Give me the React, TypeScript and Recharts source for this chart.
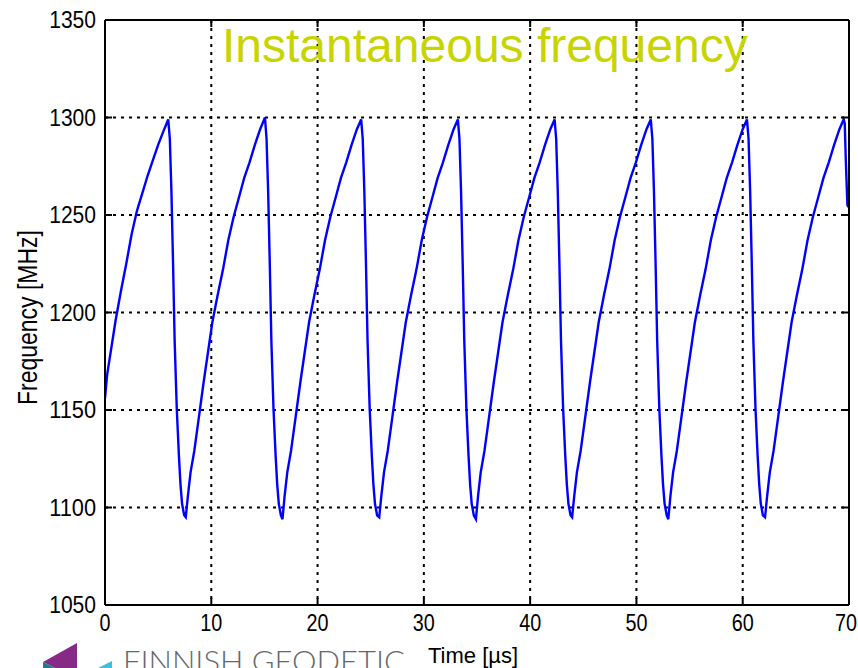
import React from "react";
import { LineChart, Line, XAxis, YAxis, CartesianGrid } from "recharts";

// time in µs, frequency in MHz, one sweep at a time
const sweep0 = [
  [0, 1156], [0.2, 1168], [0.6, 1182], [1.0, 1196], [1.5, 1211], [2.0, 1225], [2.5, 1240],
  [3.0, 1252], [3.5, 1261], [4.0, 1270], [4.5, 1278], [5.0, 1286], [5.5, 1293], [5.95, 1299],
  [6.1, 1289], [6.25, 1262], [6.4, 1226], [6.55, 1186], [6.75, 1151], [6.95, 1127], [7.1, 1112],
  [7.25, 1102], [7.45, 1096],
];
const sweep1 = [
  [7.6, 1095], [7.8, 1106], [8.05, 1118], [8.4, 1129], [8.7, 1141], [9.05, 1155], [9.3, 1165],
  [9.7, 1180], [10.1, 1195], [10.6, 1209], [11.1, 1222], [11.6, 1237], [12.1, 1249], [12.6, 1259],
  [13.1, 1269], [13.6, 1277], [14.1, 1286], [14.6, 1294], [15.05, 1300], [15.2, 1289], [15.35, 1262],
  [15.5, 1226], [15.65, 1186], [15.85, 1151], [16.05, 1127], [16.2, 1112], [16.35, 1102], [16.55, 1096],
];
const sweep2 = [
  [16.7, 1094], [16.9, 1106], [17.15, 1118], [17.5, 1129], [17.8, 1141], [18.15, 1155], [18.4, 1165],
  [18.8, 1180], [19.2, 1195], [19.7, 1209], [20.2, 1222], [20.7, 1237], [21.2, 1249], [21.7, 1259],
  [22.2, 1269], [22.7, 1277], [23.2, 1286], [23.7, 1294], [24.1, 1299], [24.25, 1289], [24.4, 1262],
  [24.55, 1226], [24.7, 1186], [24.9, 1151], [25.1, 1127], [25.25, 1112], [25.4, 1102], [25.6, 1096],
];
const sweep3 = [
  [25.8, 1095], [26.0, 1106], [26.25, 1118], [26.6, 1129], [26.9, 1141], [27.25, 1155], [27.5, 1165],
  [27.9, 1180], [28.3, 1195], [28.8, 1209], [29.3, 1222], [29.8, 1237], [30.3, 1249], [30.8, 1259],
  [31.3, 1269], [31.8, 1277], [32.3, 1286], [32.8, 1294], [33.2, 1299], [33.35, 1289], [33.5, 1262],
  [33.65, 1226], [33.8, 1186], [34.0, 1151], [34.2, 1127], [34.35, 1112], [34.5, 1102], [34.7, 1096],
];
const sweep4 = [
  [34.9, 1094], [35.1, 1106], [35.35, 1118], [35.7, 1129], [36.0, 1141], [36.35, 1155], [36.6, 1165],
  [37.0, 1180], [37.4, 1195], [37.9, 1209], [38.4, 1222], [38.9, 1237], [39.4, 1249], [39.9, 1259],
  [40.4, 1269], [40.9, 1277], [41.4, 1286], [41.9, 1294], [42.3, 1299], [42.45, 1289], [42.6, 1262],
  [42.75, 1226], [42.9, 1186], [43.1, 1151], [43.3, 1127], [43.45, 1112], [43.6, 1102], [43.8, 1096],
];
const sweep5 = [
  [43.95, 1095], [44.15, 1106], [44.4, 1118], [44.75, 1129], [45.05, 1141], [45.4, 1155], [45.65, 1165],
  [46.05, 1180], [46.45, 1195], [46.95, 1209], [47.45, 1222], [47.95, 1237], [48.45, 1249], [48.95, 1259],
  [49.45, 1269], [49.95, 1277], [50.45, 1286], [50.95, 1294], [51.35, 1299], [51.5, 1289], [51.65, 1262],
  [51.8, 1226], [51.95, 1186], [52.15, 1151], [52.35, 1127], [52.5, 1112], [52.65, 1102], [52.85, 1096],
];
const sweep6 = [
  [53.0, 1094], [53.2, 1106], [53.45, 1118], [53.8, 1129], [54.1, 1141], [54.45, 1155], [54.7, 1165],
  [55.1, 1180], [55.5, 1195], [56.0, 1209], [56.5, 1222], [57.0, 1237], [57.5, 1249], [58.0, 1259],
  [58.5, 1269], [59.0, 1277], [59.5, 1286], [60.0, 1294], [60.4, 1299], [60.55, 1289], [60.7, 1262],
  [60.85, 1226], [61.0, 1186], [61.2, 1151], [61.4, 1127], [61.55, 1112], [61.7, 1102], [61.9, 1096],
];
const sweep7 = [
  [62.1, 1095], [62.3, 1106], [62.55, 1118], [62.9, 1129], [63.2, 1141], [63.55, 1155], [63.8, 1165],
  [64.2, 1180], [64.6, 1195], [65.1, 1209], [65.6, 1222], [66.1, 1237], [66.6, 1249], [67.1, 1259],
  [67.6, 1269], [68.1, 1277], [68.6, 1286], [69.1, 1294], [69.5, 1299], [69.6, 1297], [69.7, 1278],
  [69.85, 1255], [69.95, 1254],
];

const timeTicks = [0, 10, 20, 30, 40, 50, 60, 70];
const freqTicks = [1050, 1100, 1150, 1200, 1250, 1300, 1350];

const data = [sweep0, sweep1, sweep2, sweep3, sweep4, sweep5, sweep6, sweep7]
  .flat()
  .map(([t, f]) => ({ t, f }));

const W = 858;
const H = 668;
// plot box edges, follow from the margins / axis sizes below
const TOP = 20;
const BOTTOM = 605;
const LEFT = 105;
const RIGHT = 849;
const TICK = 7;

const font = "'Liberation Sans', Arial, Helvetica, sans-serif";

// MATLAB style: inward ticks on both sides of the box, narrow digits
const TimeTick = ({ payload }: any) => {
  const x = payload.coordinate;
  const label = String(payload.value);
  const w = 11 * label.length;
  // keep the last label inside the figure like MATLAB does
  const tx = Math.min(x, W - 1 - w / 2);
  return (
    <g>
      <line x1={x} x2={x} y1={BOTTOM} y2={BOTTOM - TICK} stroke="#000" strokeWidth={2} />
      <line x1={x} x2={x} y1={TOP} y2={TOP + TICK} stroke="#000" strokeWidth={2} />
      <text
        x={tx}
        y={BOTTOM + 26}
        textAnchor="middle"
        fontSize={23}
        fontFamily={font}
        textLength={w}
        lengthAdjust="spacingAndGlyphs"
        fill="#000"
      >
        {label}
      </text>
    </g>
  );
};

const FreqTick = ({ payload }: any) => {
  const y = payload.coordinate;
  const label = String(payload.value);
  return (
    <g>
      <line x1={LEFT} x2={LEFT + TICK} y1={y} y2={y} stroke="#000" strokeWidth={2} />
      <line x1={RIGHT} x2={RIGHT - TICK} y1={y} y2={y} stroke="#000" strokeWidth={2} />
      <text
        x={LEFT - 9}
        y={y + 8}
        textAnchor="end"
        fontSize={23}
        fontFamily={font}
        textLength={11.7 * label.length}
        lengthAdjust="spacingAndGlyphs"
        fill="#000"
      >
        {label}
      </text>
    </g>
  );
};

const YLabel = ({ viewBox }: any) => {
  const x = viewBox.x + 37;
  const y = viewBox.y + viewBox.height / 2 + 5;
  return (
    <text
      x={x}
      y={y}
      transform={`rotate(-90 ${x} ${y})`}
      textAnchor="middle"
      fontSize={27}
      fontFamily={font}
      textLength={175}
      lengthAdjust="spacingAndGlyphs"
      fill="#000"
    >
      Frequency [MHz]
    </text>
  );
};

const XLabel = ({ viewBox }: any) => (
  <text
    x={viewBox.x + viewBox.width / 2 - 4}
    y={663}
    textAnchor="middle"
    fontSize={22}
    fontFamily={font}
    fill="#000"
  >
    Time [µs]
  </text>
);

export default function App() {
  return (
    <div style={{ position: "absolute", left: 0, top: 0, width: W, height: H, background: "#fff" }}>
      <LineChart width={W} height={H} data={data} margin={{ top: 0, right: 0, bottom: 0, left: 0 }}>
        <CartesianGrid
          xAxisId="b"
          yAxisId="l"
          stroke="#000"
          strokeWidth={2}
          strokeDasharray="3 5"
          verticalValues={[10, 20, 30, 40, 50, 60]}
          horizontalValues={[1100, 1150, 1200, 1250, 1300]}
        />
        <XAxis
          xAxisId="b"
          dataKey="t"
          type="number"
          domain={[0, 70]}
          ticks={timeTicks}
          allowDataOverflow
          height={H - BOTTOM}
          axisLine={{ stroke: "#000", strokeWidth: 2 }}
          tickLine={false}
          tick={<TimeTick />}
          interval={0}
          label={<XLabel />}
        />
        <XAxis
          xAxisId="t"
          orientation="top"
          dataKey="t"
          type="number"
          domain={[0, 70]}
          ticks={timeTicks}
          allowDataOverflow
          height={TOP}
          axisLine={{ stroke: "#000", strokeWidth: 2 }}
          tickLine={false}
          tick={false}
        />
        <YAxis
          yAxisId="l"
          type="number"
          domain={[1050, 1350]}
          ticks={freqTicks}
          allowDataOverflow
          width={LEFT}
          axisLine={{ stroke: "#000", strokeWidth: 2 }}
          tickLine={false}
          tick={<FreqTick />}
          interval={0}
          label={<YLabel />}
        />
        <YAxis
          yAxisId="r"
          orientation="right"
          type="number"
          domain={[1050, 1350]}
          ticks={freqTicks}
          allowDataOverflow
          width={W - RIGHT}
          axisLine={{ stroke: "#000", strokeWidth: 2 }}
          tickLine={false}
          tick={false}
        />
        <Line
          xAxisId="t"
          yAxisId="r"
          dataKey="f"
          type="linear"
          stroke="none"
          dot={false}
          activeDot={false}
          isAnimationActive={false}
        />
        <Line
          xAxisId="b"
          yAxisId="l"
          dataKey="f"
          type="linear"
          stroke="#0000ff"
          strokeWidth={2.4}
          dot={false}
          activeDot={false}
          isAnimationActive={false}
        />
      </LineChart>
      <svg
        width={W}
        height={H}
        style={{ position: "absolute", left: 0, top: 0, pointerEvents: "none" }}
      >
        <text x={222} y={62} fontSize={48} fontFamily={font} fill="#c8d400">
          Instantaneous frequency
        </text>
        <polygon points="77,643 43,662 55,668 77,668" fill="#862a86" />
        <polygon points="43,662 43,668 55,668" fill="#1d7f8c" />
        <polygon points="112,661 98,668 112,668" fill="#3cc0dd" />
        <text
          x={123}
          y={672}
          fontSize={30}
          fontFamily="Lato, 'Open Sans', sans-serif"
          fontWeight={300}
          fill="#66676a"
          textLength={282}
          lengthAdjust="spacingAndGlyphs"
        >
          FINNISH GEODETIC
        </text>
      </svg>
    </div>
  );
}
